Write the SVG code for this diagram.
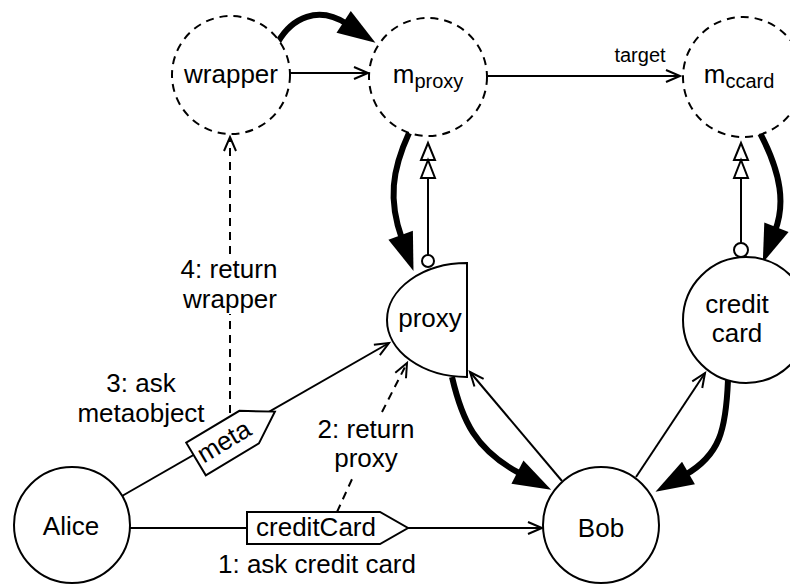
<svg xmlns="http://www.w3.org/2000/svg" width="790" height="587" viewBox="0 0 790 587">
<style>
  .node { fill: #fff; stroke: #000; stroke-width: 2; }
  .meta { fill: #fff; stroke: #000; stroke-width: 2; stroke-dasharray: 8 6; }
  .lbl { font-family: "Liberation Sans", Arial, sans-serif; font-size: 26px; fill: #000; text-anchor: middle; }
  .small { font-size: 20px; }
  .thin { fill: none; stroke: #000; stroke-width: 2; }
  .dash { fill: none; stroke: #000; stroke-width: 2; stroke-dasharray: 8 6; }
  .thick { fill: none; stroke: #000; stroke-width: 6; }
  .tag { fill: #fff; stroke: #000; stroke-width: 2; }
</style>
<defs>
  <marker id="open" markerUnits="userSpaceOnUse" orient="auto" refX="0" refY="0" markerWidth="20" markerHeight="20" overflow="visible">
    <path d="M-14,-6 L0,0 L-14,6" fill="none" stroke="#000" stroke-width="2"/>
  </marker>
  <marker id="fat" markerUnits="userSpaceOnUse" orient="auto" refX="0" refY="0" markerWidth="40" markerHeight="40" overflow="visible">
    <path d="M-4,-13 L34,0 L-4,13 Z" fill="#000" stroke="none"/>
  </marker>
  <marker id="dbl" markerUnits="userSpaceOnUse" orient="auto" refX="0" refY="0" markerWidth="40" markerHeight="40" overflow="visible">
    <path d="M0,0 L-17,-7 L-17,7 Z M-17,0 L-35,-7 L-35,7 Z" fill="#fff" stroke="#000" stroke-width="2" stroke-linejoin="miter"/>
  </marker>
</defs>
<rect width="790" height="587" fill="#fff"/>

<g id="connectors">
  <!-- thin solid arrows -->
  <path class="thin" d="M288,73 L368,73" marker-end="url(#open)"/>
  <path class="thin" d="M488,76 L680,76" marker-end="url(#open)"/>
  <text class="lbl small" x="640" y="62">target</text>
  <path class="thin" d="M130,528 L542,528" marker-end="url(#open)"/>
  <path class="thin" d="M122,496 L389,343" marker-end="url(#open)"/>
  <path class="thin" d="M562,481 L470,372" marker-end="url(#open)"/>
  <path class="thin" d="M636,477 L705,373" marker-end="url(#open)"/>
  <!-- meta links -->
  <path class="thin" d="M428,255 L428,143" marker-end="url(#dbl)"/>
  <circle class="node" cx="428" cy="261" r="6"/>
  <path class="thin" d="M741,243 L741,143" marker-end="url(#dbl)"/>
  <circle class="node" cx="741" cy="250" r="7"/>
  <!-- dashed returns -->
  <path class="dash" d="M230,413 L230,314"/>
  <path class="dash" d="M230,254 L230,137" marker-end="url(#open)"/>
  <path class="dash" d="M337,512 L353,477"/>
  <path class="dash" d="M382,412 L407,363" marker-end="url(#open)"/>
  <!-- thick arrows -->
  <path class="thick" d="M278,42 C292,18 318,5 347,24" marker-end="url(#fat)"/>
  <path class="thick" d="M409,133 C392,170 388,200 402,239" marker-end="url(#fat)"/>
  <path class="thick" d="M760,133 C782,175 785,205 775,231" marker-end="url(#fat)"/>
  <path class="thick" d="M452,377 C462,420 475,450 521,474" marker-end="url(#fat)"/>
  <path class="thick" d="M728,380 C726,430 720,455 685,475" marker-end="url(#fat)"/>
  <!-- tags -->
  <g id="tag-creditCard">
    <path class="tag" d="M247,512 L380,512 L408,528 L380,544 L247,544 Z"/>
    <text class="lbl" x="316" y="536">creditCard</text>
  </g>
  <g id="tag-meta" transform="translate(196,459) rotate(-31)">
    <path class="tag" d="M0,-19 L62,-19 L92,0 L62,19 L0,19 Z"/>
    <text class="lbl" x="33" y="8">meta</text>
  </g>
  <!-- labels -->
  <text class="lbl" x="317" y="573">1: ask credit card</text>
  <text class="lbl" x="366" y="438">2: return</text>
  <text class="lbl" x="366" y="467">proxy</text>
  <text class="lbl" x="141" y="392">3: ask</text>
  <text class="lbl" x="141" y="422">metaobject</text>
  <text class="lbl" x="229" y="278">4: return</text>
  <text class="lbl" x="230" y="308">wrapper</text>
</g>

<g id="wrapper">
  <circle class="meta" cx="231" cy="75" r="59"/>
  <text class="lbl" x="231" y="83">wrapper</text>
</g>
<g id="m_proxy">
  <circle class="meta" cx="428" cy="77" r="59"/>
  <text class="lbl" x="428" y="83">m<tspan class="small" dy="5">proxy</tspan></text>
</g>
<g id="m_ccard">
  <circle class="meta" cx="743" cy="77" r="60"/>
  <text class="lbl" x="739" y="83">m<tspan class="small" dy="5">ccard</tspan></text>
</g>
<g id="proxy">
  <path class="node" d="M467,263 A80,57 0 0 0 467,377 Z"/>
  <text class="lbl" x="430" y="327">proxy</text>
</g>
<g id="creditcard">
  <circle class="node" cx="746" cy="320" r="63"/>
  <text class="lbl" x="737" y="313">credit</text>
  <text class="lbl" x="737" y="342">card</text>
</g>
<g id="alice">
  <circle class="node" cx="72" cy="525" r="58"/>
  <text class="lbl" x="71" y="535">Alice</text>
</g>
<g id="bob">
  <circle class="node" cx="601" cy="525" r="58"/>
  <text class="lbl" x="601" y="537">Bob</text>
</g>
</svg>
